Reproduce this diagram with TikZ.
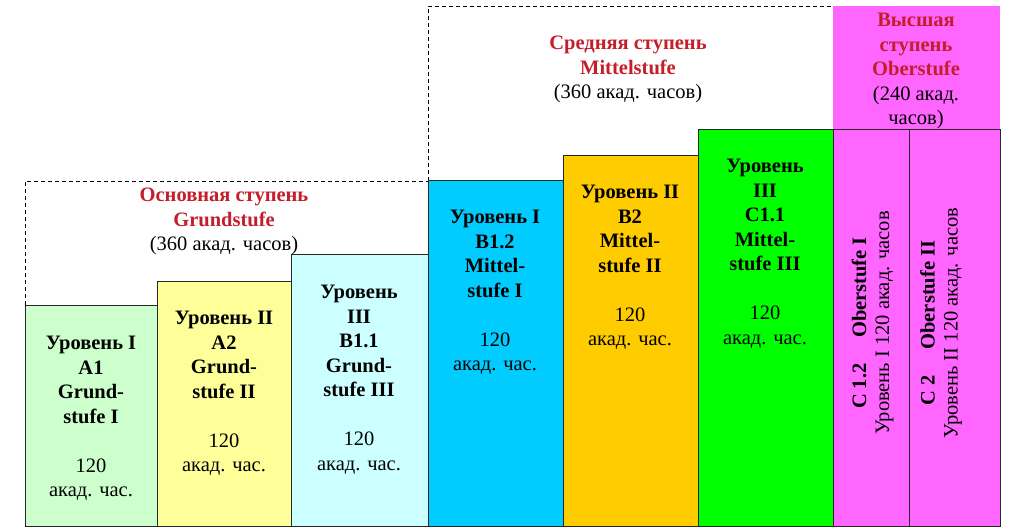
\documentclass[tikz,border=0pt]{standalone}
\usepackage{fontspec}
\setmainfont{Liberation Serif}
\definecolor{cA}{HTML}{CCFFCC}
\definecolor{cB}{HTML}{FFFF99}
\definecolor{cC}{HTML}{CCFFFF}
\definecolor{cD}{HTML}{00CCFF}
\definecolor{cE}{HTML}{FFCC00}
\definecolor{cF}{HTML}{00FF00}
\definecolor{cM}{HTML}{FF66FF}
\definecolor{hred}{HTML}{C41E2A}
\begin{document}
\begin{tikzpicture}[x=1pt,y=-1pt,
  lvl/.style={draw=black!85, line width=0.8pt, inner sep=0pt, anchor=north west},
  txt/.style={anchor=north, inner sep=0pt, align=center, font=\fontsize{20.5}{24.5}\selectfont},
  head/.style={txt},
  grp/.style={draw=black, dashed, dash pattern=on 4pt off 3pt, line width=0.7pt},
  vtxt/.style={inner sep=0pt, align=center, rotate=90, font=\fontsize{20.5}{23}\selectfont}]
\useasboundingbox (0,0) rectangle (1024,531);
% dashed group frames
\coordinate (g1a) at (25,305);
\coordinate (g1b) at (25,181);
\coordinate (g1c) at (428,181);
\coordinate (g2a) at (428,181);
\coordinate (g2b) at (428,6);
\coordinate (g2c) at (833,6);
\draw[grp] (g1a) -- (g1b) -- (g1c);
\draw[grp] (g2a) -- (g2b) -- (g2c);
% magenta header
\fill[cM] (833,6) rectangle (1000,129);
% level boxes
\node[lvl, fill=cA, minimum width=132pt, minimum height=221pt] (b1) at (25,305) {};
\node[lvl, fill=cB, minimum width=134pt, minimum height=245pt] (b2) at (157,281) {};
\node[lvl, fill=cC, minimum width=137pt, minimum height=272pt] (b3) at (291,254) {};
\node[lvl, fill=cD, minimum width=135pt, minimum height=346pt] (b4) at (428,180) {};
\node[lvl, fill=cE, minimum width=135pt, minimum height=371pt] (b5) at (563,155) {};
\node[lvl, fill=cF, minimum width=135pt, minimum height=397pt] (b6) at (698,129) {};
\node[lvl, fill=cM, minimum width=76pt, minimum height=397pt] (b7) at (833,129) {};
\node[lvl, fill=cM, minimum width=91pt, minimum height=397pt] (b8) at (909,129) {};
% texts in boxes
\node[txt] (t1) at (91,336) {\bfseries Уровень I\\\bfseries A1\\\bfseries Grund-\\\bfseries stufe I\\[24.5pt]120\\акад. час.};
\node[txt] (t2) at (224,311) {\bfseries Уровень II\\\bfseries A2\\\bfseries Grund-\\\bfseries stufe II\\[24.5pt]120\\акад. час.};
\node[txt] (t3) at (359,285) {\bfseries Уровень\\\bfseries III\\\bfseries B1.1\\\bfseries Grund-\\\bfseries stufe III\\[24.5pt]120\\акад. час.};
\node[txt] (t4) at (495,210) {\bfseries Уровень I\\\bfseries B1.2\\\bfseries Mittel-\\\bfseries stufe I\\[24.5pt]120\\акад. час.};
\node[txt] (t5) at (630,185) {\bfseries Уровень II\\\bfseries B2\\\bfseries Mittel-\\\bfseries stufe II\\[24.5pt]120\\акад. час.};
\node[txt] (t6) at (765,159) {\bfseries Уровень\\\bfseries III\\\bfseries C1.1\\\bfseries Mittel-\\\bfseries stufe III\\[24.5pt]120\\акад. час.};
% rotated texts
\node[vtxt] (t7) at (872.5,323) {\bfseries C 1.2\quad\ Oberstufe I\\Уровень I 120 акад. часов};
\node[vtxt] (t8) at (941,323) {\bfseries C 2\quad\ Oberstufe II\\Уровень II 120 акад. часов};
% group headings
\node[head] (h1) at (224,188) {\textcolor{hred}{\bfseries Основная ступень}\\\textcolor{hred}{\bfseries Grundstufe}\\(360 акад. часов)};
\node[head] (h2) at (628,36) {\textcolor{hred}{\bfseries Средняя ступень}\\\textcolor{hred}{\bfseries Mittelstufe}\\(360 акад. часов)};
\node[head] (h3) at (916,13) {\textcolor{hred}{\bfseries Высшая}\\\textcolor{hred}{\bfseries ступень}\\\textcolor{hred}{\bfseries Oberstufe}\\(240 акад.\\часов)};
\end{tikzpicture}
\end{document}
